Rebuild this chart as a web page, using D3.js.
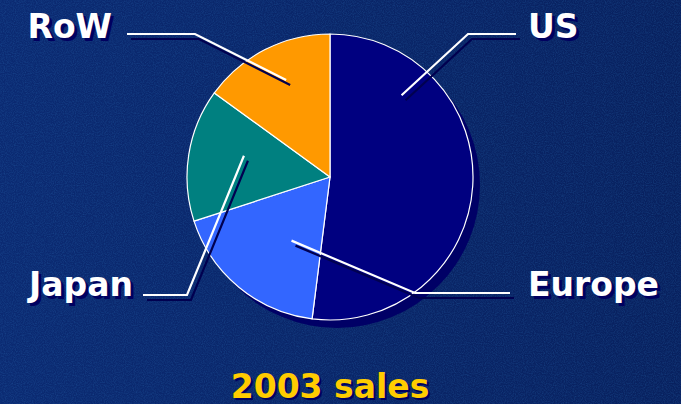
<!DOCTYPE html>
<html>
<head>
<meta charset="utf-8">
<script src="https://cdn.jsdelivr.net/npm/d3@7"></script>
<style>
  body { margin: 0; background: #0a2668; }
  svg { display: block; }
</style>
</head>
<body>
<svg id="chart" width="681" height="404"></svg>
<script>
// data
const regions = ["US", "Europe", "Japan", "RoW"];
const sales = [52, 18, 15, 15];
const sliceColors = ["#000080", "#3366ff", "#008080", "#ff9900"];
const chartTitle = "2003 sales";

const width = 681, height = 404;
const center = { x: 330, y: 177 };
const radius = 143;
const font = "'DejaVu Sans', Verdana, sans-serif";

// callout layout: where the leader starts inside the slice (t along the slice, k of radius),
// the elbow, the end of the line and the label anchor
const callouts = {
    "US":     { t: 0.22, k: 0.76, elbow: [468, 34], end: [516, 34], label: [528, 38], anchor: "start" },
    "Europe": { t: 0.37, k: 0.52, elbow: [415, 293], end: [510, 293], label: [528, 296], anchor: "start" },
    "Japan":  { t: 0.59, k: 0.62, elbow: [187, 295], end: [143, 295], label: [133, 296], anchor: "end" },
    "RoW":    { t: 0.55, k: 0.745, elbow: [195, 34], end: [127, 34], label: [112, 38], anchor: "end" }
};

const svg = d3.select("#chart");
const defs = svg.append("defs");

// textured background
let bgGrad = defs.append("linearGradient").attr("id", "bg-grad")
    .attr("x1", 0).attr("y1", 0).attr("x2", 1).attr("y2", 0);
bgGrad.append("stop").attr("offset", "0%").attr("stop-color", "#0b2a72");
bgGrad.append("stop").attr("offset", "100%").attr("stop-color", "#08215f");

let noise = defs.append("filter").attr("id", "noise")
    .attr("x", 0).attr("y", 0).attr("width", "100%").attr("height", "100%");
noise.append("feTurbulence")
    .attr("type", "fractalNoise")
    .attr("baseFrequency", 0.9)
    .attr("numOctaves", 2)
    .attr("seed", 3)
    .attr("result", "turb");
noise.append("feColorMatrix")
    .attr("in", "turb")
    .attr("type", "matrix")
    .attr("values", "0 0 0 0 0.04  0 0 0 0 0.25  0 0 0 0 0.62  0 0 0 1 -0.35");

svg.append("rect").attr("width", width).attr("height", height).attr("fill", "url(#bg-grad)");
svg.append("rect").attr("width", width).attr("height", height)
    .attr("filter", "url(#noise)").attr("opacity", 0.4);

// pie
const pie = d3.pie().sort(null).value(d => d.value);
const arcs = pie(regions.map((r, i) => ({ region: r, value: sales[i], color: sliceColors[i] })));
const arc = d3.arc().innerRadius(0).outerRadius(radius);

const g = svg.append("g").attr("transform", `translate(${center.x},${center.y})`);

// drop shadow of the pie
g.append("circle")
    .attr("cx", 7).attr("cy", 8)
    .attr("r", radius)
    .attr("fill", "#000066");

g.selectAll("path.slice")
    .data(arcs)
    .enter().append("path")
    .attr("class", "slice")
    .attr("d", arc)
    .attr("fill", d => d.data.color)
    .attr("stroke", "#ffffff")
    .attr("stroke-width", 1.2)
    .attr("stroke-linejoin", "round");

// leader lines
function innerPoint(d) {
    const c = callouts[d.data.region];
    const a = d.startAngle + c.t * (d.endAngle - d.startAngle);
    const r = c.k * radius;
    return [center.x + r * Math.sin(a), center.y - r * Math.cos(a)];
}

const line = d3.line();
const leaders = svg.append("g");

leaders.selectAll("path.leader-shadow")
    .data(arcs)
    .enter().append("path")
    .attr("class", "leader-shadow")
    .attr("transform", "translate(4,5)")
    .attr("d", d => line([innerPoint(d), callouts[d.data.region].elbow, callouts[d.data.region].end]))
    .attr("fill", "none")
    .attr("stroke", "#000050")
    .attr("stroke-width", 2.2);

leaders.selectAll("path.leader")
    .data(arcs)
    .enter().append("path")
    .attr("class", "leader")
    .attr("d", d => line([innerPoint(d), callouts[d.data.region].elbow, callouts[d.data.region].end]))
    .attr("fill", "none")
    .attr("stroke", "#ffffff")
    .attr("stroke-width", 2.2);

// labels with shadow
const labels = svg.append("g")
    .style("font-family", font)
    .style("font-weight", "bold")
    .style("font-size", "33px");

labels.selectAll("text.label-shadow")
    .data(arcs)
    .enter().append("text")
    .attr("class", "label-shadow")
    .attr("x", d => callouts[d.data.region].label[0] + 3)
    .attr("y", d => callouts[d.data.region].label[1] + 3)
    .attr("text-anchor", d => callouts[d.data.region].anchor)
    .attr("fill", "#000060")
    .text(d => d.data.region);

labels.selectAll("text.label")
    .data(arcs)
    .enter().append("text")
    .attr("class", "label")
    .attr("x", d => callouts[d.data.region].label[0])
    .attr("y", d => callouts[d.data.region].label[1])
    .attr("text-anchor", d => callouts[d.data.region].anchor)
    .attr("fill", "#ffffff")
    .text(d => d.data.region);

// title
const title = svg.append("g")
    .style("font-family", font)
    .style("font-weight", "bold")
    .style("font-size", "33px")
    .attr("text-anchor", "middle");

title.append("text")
    .attr("x", center.x + 2).attr("y", 400)
    .attr("fill", "#000060")
    .text(chartTitle);

title.append("text")
    .attr("x", center.x).attr("y", 398)
    .attr("fill", "#ffcc00")
    .text(chartTitle);
</script>
</body>
</html>
